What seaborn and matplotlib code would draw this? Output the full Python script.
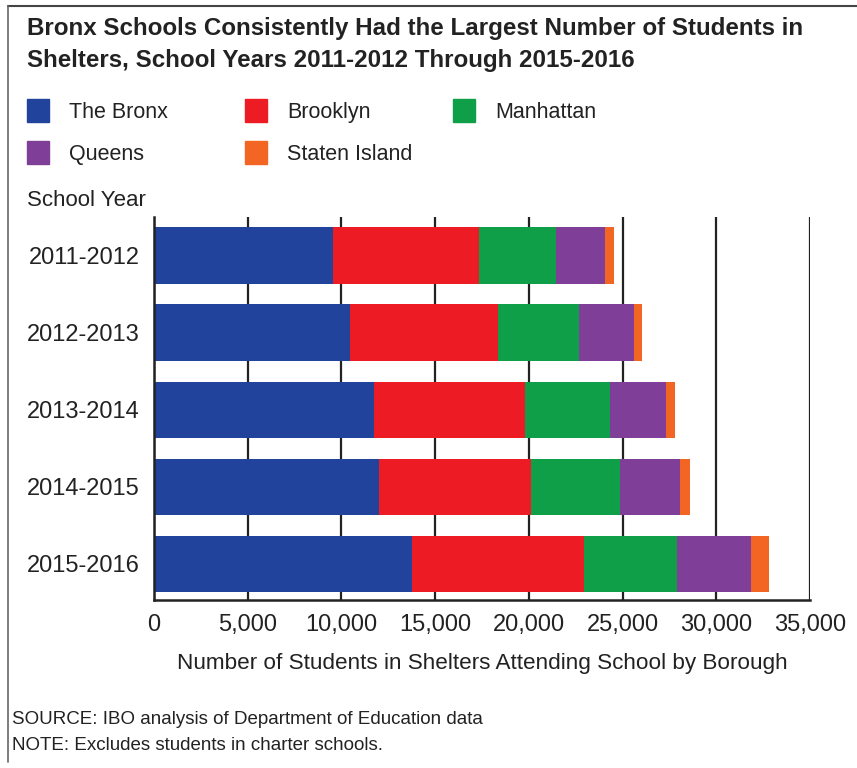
import pandas as pd
import matplotlib.pyplot as plt
import matplotlib.patches as mpatches
import matplotlib.lines as mlines
import seaborn as sns

years = ['2011-2012', '2012-2013', '2013-2014', '2014-2015', '2015-2016']
boroughs = ['The Bronx', 'Brooklyn', 'Manhattan', 'Queens', 'Staten Island']
bronx = [9540, 10470, 11720, 11980, 13750]
brooklyn = [7820, 7870, 8050, 8130, 9210]
manhattan = [4090, 4320, 4570, 4740, 4940]
queens = [2630, 2930, 2960, 3190, 3960]
staten_island = [480, 460, 510, 580, 960]
colors = ['#22439b', '#ed1c24', '#0f9f48', '#7f3f98', '#f26522']

df = pd.DataFrame({'year': years, 'The Bronx': bronx, 'Brooklyn': brooklyn,
                   'Manhattan': manhattan, 'Queens': queens,
                   'Staten Island': staten_island})
cum = df[boroughs].cumsum(axis=1)
cum['year'] = df['year']

sns.set_style('white')
plt.rcParams['font.family'] = ['Liberation Sans', 'DejaVu Sans']
ink = '#222222'

fig = plt.figure(figsize=(8.57, 7.68), dpi=100)
ax = fig.add_axes([154 / 857, 1 - 600 / 768, 656 / 857, 383 / 768])
ax.set_axisbelow(True)

# stacked bars: draw cumulative totals from the outermost segment inward
for b, c in reversed(list(zip(boroughs, colors))):
    sns.barplot(data=cum, x=b, y='year', color=c, width=0.73,
                orient='h', ax=ax, saturation=1, linewidth=0)

ax.set_xlim(0, 35000)
ax.set_ylim(4.47, -0.5)
ax.set_xticks(range(0, 35001, 5000))
ax.set_xticklabels([f'{v:,}' for v in range(0, 35001, 5000)], fontsize=17)
ax.set_yticks(range(len(years)))
ax.set_yticklabels(years, fontsize=17)
ax.tick_params(axis='both', length=0, colors=ink)
ax.tick_params(axis='x', pad=10)
ax.tick_params(axis='y', pad=10)
ax.xaxis.grid(True, color=ink, linewidth=1.6)
ax.yaxis.grid(False)
for s in ['top', 'right']:
    ax.spines[s].set_visible(False)
for s in ['left', 'bottom']:
    ax.spines[s].set_color(ink)
    ax.spines[s].set_linewidth(1.8)
ax.set_xlabel('Number of Students in Shelters Attending School by Borough',
              fontsize=16.2, labelpad=12, color=ink)
ax.set_ylabel('')

fig.text(27 / 857, 1 - 44 / 768,
         'Bronx Schools Consistently Had the Largest Number of Students in\n'
         'Shelters, School Years 2011-2012 Through 2015-2016',
         fontsize=17.4, fontweight='bold', va='center', ha='left',
         linespacing=1.5, color=ink)

# legend laid out in three columns like the original
handles = dict((b, mpatches.Patch(color=c, label=b)) for b, c in zip(boroughs, colors))
columns = [(['The Bronx', 'Queens'], 27), (['Brooklyn', 'Staten Island'], 245),
           (['Manhattan'], 453)]
for names, x in columns:
    leg = fig.legend([handles[n] for n in names], names, loc='upper left',
                     bbox_to_anchor=(x / 857, 1 - 99 / 768), frameon=False,
                     fontsize=15.5, handlelength=1.0, handleheight=1.25,
                     handletextpad=0.95, labelspacing=0.85, borderpad=0,
                     borderaxespad=0, labelcolor=ink)

fig.text(27 / 857, 1 - 201 / 768, 'School Year', fontsize=16,
         va='center', ha='left', color=ink)
fig.text(12 / 857, 1 - 720 / 768,
         'SOURCE: IBO analysis of Department of Education data',
         fontsize=13.5, va='center', ha='left', color=ink)
fig.text(12 / 857, 1 - 746 / 768, 'NOTE: Excludes students in charter schools.',
         fontsize=13.5, va='center', ha='left', color=ink)

# frame lines on top and left edges
fig.add_artist(mlines.Line2D([8 / 857, 1], [1 - 6 / 768, 1 - 6 / 768],
                             color='#444444', linewidth=1.5))
fig.add_artist(mlines.Line2D([8 / 857, 8 / 857], [1 - 6 / 768, 1 - 762 / 768],
                             color='#666666', linewidth=1.2))

fig.savefig('out.png', dpi=100)
